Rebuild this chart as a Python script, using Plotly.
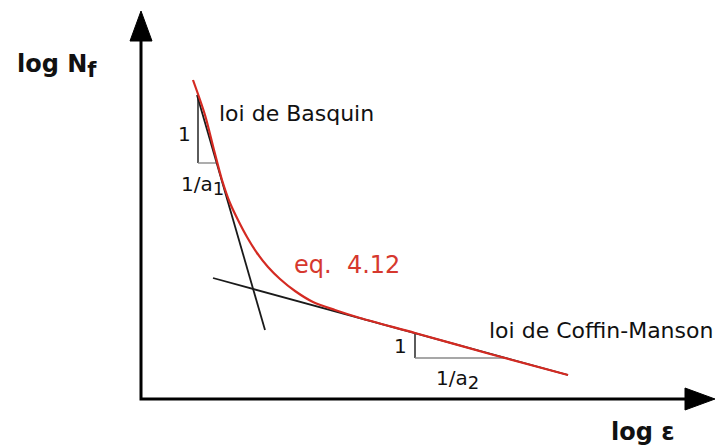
import plotly.graph_objects as go

# --- data (arbitrary log units, origin at the axes corner) ---
# eq. 4.12 combined curve (log eps, log Nf)
curve_log_eps = [52, 64, 73, 81, 89, 97, 106, 116, 127, 139, 154, 172, 194, 219, 274, 349, 427]
curve_log_nf = [319, 284, 249, 219, 196, 179, 162, 146, 132, 120, 108, 97, 89, 81, 66, 45, 24]

# asymptotes
basquin_log_eps = [56, 124]
basquin_log_nf = [304, 69]
coffin_log_eps = [72, 427]
coffin_log_nf = [121, 24]

# slope triangles: (corner x, top y, bottom y, right x)
tri1_eps = [57, 57, 76]
tri1_nf = [301, 236, 236]
tri2_eps = [274, 274, 365]
tri2_nf = [66, 41, 41]

# axes extents
x_axis_end = 574
y_axis_end = 388

RED = "#d42a22"
FONT = "DejaVu Sans"

fig = go.Figure()

# axes lines
AH_L, AH_W = 30, 11
fig.add_trace(go.Scatter(x=[0, 0, x_axis_end - AH_L + 2], y=[y_axis_end - AH_L + 2, 0, 0],
                         mode="lines", line=dict(color="black", width=3), hoverinfo="skip"))
# arrow heads
fig.add_trace(go.Scatter(x=[x_axis_end, x_axis_end - AH_L, x_axis_end - AH_L, x_axis_end],
                         y=[0, AH_W, -AH_W, 0], fill="toself", fillcolor="black",
                         mode="lines", line=dict(color="black", width=1), hoverinfo="skip"))
fig.add_trace(go.Scatter(x=[0, AH_W, -AH_W, 0],
                         y=[y_axis_end, y_axis_end - AH_L, y_axis_end - AH_L, y_axis_end],
                         fill="toself", fillcolor="black",
                         mode="lines", line=dict(color="black", width=1), hoverinfo="skip"))

# triangles
fig.add_trace(go.Scatter(x=tri1_eps[:2], y=tri1_nf[:2], mode="lines",
                         line=dict(color="#333333", width=1.6), hoverinfo="skip"))
fig.add_trace(go.Scatter(x=tri1_eps[1:], y=tri1_nf[1:], mode="lines",
                         line=dict(color="#8a8a8a", width=1.4), hoverinfo="skip"))
fig.add_trace(go.Scatter(x=tri2_eps[:2], y=tri2_nf[:2], mode="lines",
                         line=dict(color="#333333", width=1.6), hoverinfo="skip"))
fig.add_trace(go.Scatter(x=tri2_eps[1:], y=tri2_nf[1:], mode="lines",
                         line=dict(color="#8a8a8a", width=1.4), hoverinfo="skip"))

# asymptotes
fig.add_trace(go.Scatter(x=basquin_log_eps, y=basquin_log_nf, mode="lines",
                         line=dict(color="#1a1a1a", width=1.8), hoverinfo="skip"))
fig.add_trace(go.Scatter(x=coffin_log_eps, y=coffin_log_nf, mode="lines",
                         line=dict(color="#1a1a1a", width=1.8), hoverinfo="skip"))

# combined curve
fig.add_trace(go.Scatter(x=curve_log_eps, y=curve_log_nf, mode="lines",
                         line=dict(color=RED, width=2.2, shape="spline", smoothing=0.8),
                         hoverinfo="skip"))

def label(x, y, text, size=22, color="#111111", xanchor="left", bold=False):
    fig.add_annotation(x=x, y=y, text=f"<b>{text}</b>" if bold else text, showarrow=False,
                       xanchor=xanchor, yanchor="middle",
                       font=dict(family=FONT, size=size, color=color))

label(-126, 333, "log N<sub><span style='font-size:21px'>f</span></sub>", size=24, bold=True)
label(502, -33, "log ε", size=24, bold=True, xanchor="center")
label(76, 286, "loi de Basquin", size=22)
label(346, 69, "loi de Coffin-Manson", size=22)
label(151, 134, "eq.\u00a0\u00a04.12", size=24, color="#d6382e")
label(43, 265, "1", size=20, xanchor="center")
label(38, 214, "1/a<sub><span style='font-size:18px'>1</span></sub>", size=20)
label(259, 53, "1", size=20, xanchor="center")
label(293, 20, "1/a<sub><span style='font-size:18px'>2</span></sub>", size=20)

fig.update_layout(
    width=720, height=445,
    margin=dict(l=0, r=0, t=0, b=0),
    paper_bgcolor="white", plot_bgcolor="white",
    showlegend=False,
    xaxis=dict(range=[-141, 579], visible=False, fixedrange=True),
    yaxis=dict(range=[-46, 399], visible=False, fixedrange=True),
)

fig.write_html("out.html", config={"displayModeBar": False},
               post_script="document.body.style.margin='0px';")
